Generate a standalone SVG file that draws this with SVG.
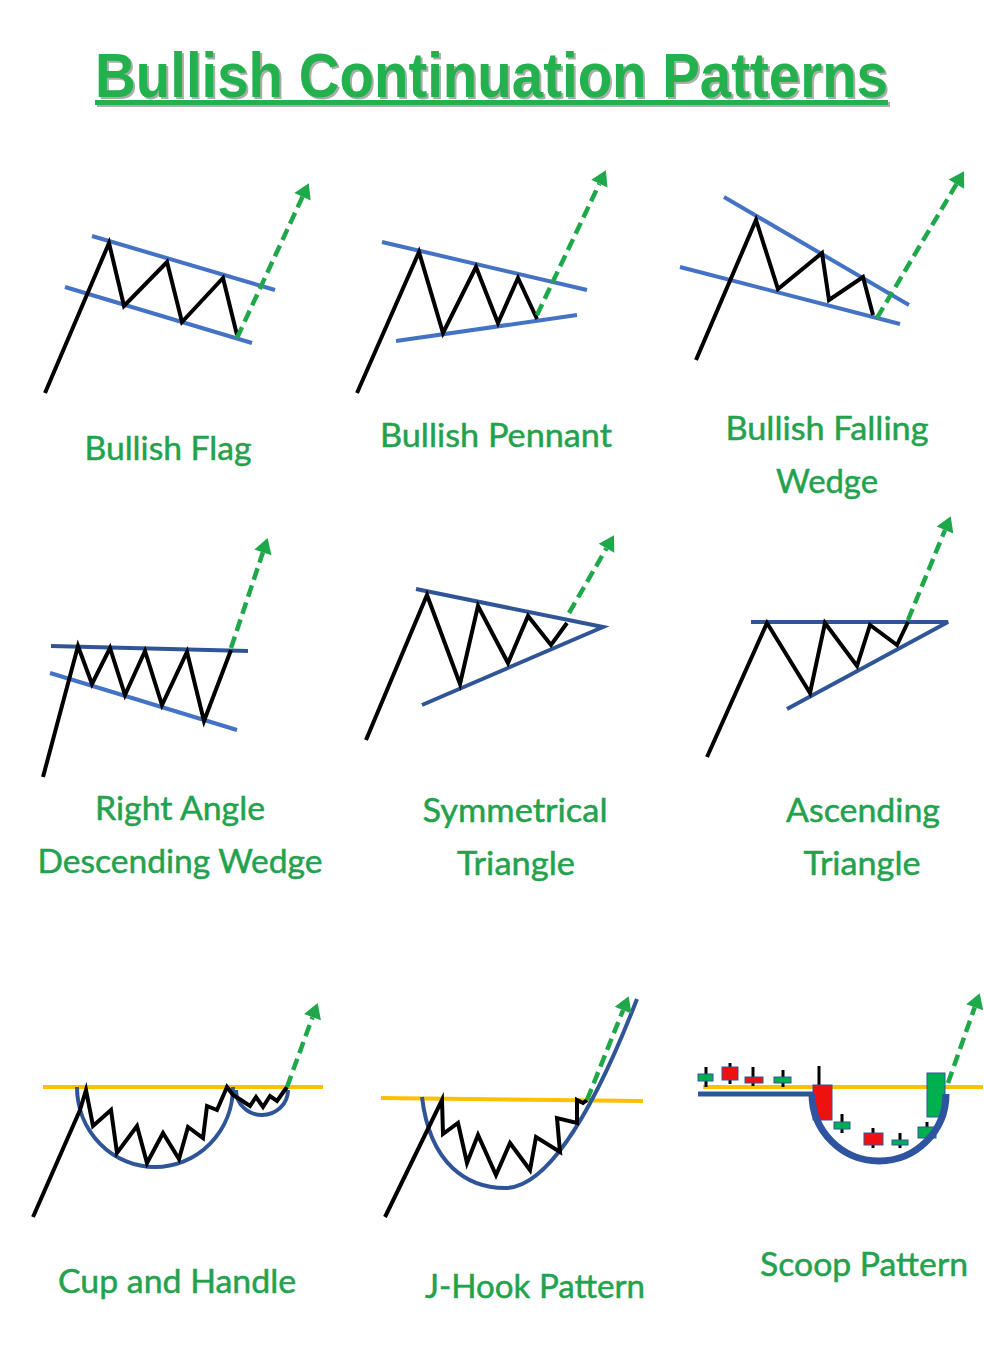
<svg xmlns="http://www.w3.org/2000/svg" width="984" height="1372" viewBox="0 0 984 1372">
<defs>
<style>
.bg{fill:#ffffff}
.title{font-family:"Liberation Sans Narrow","Liberation Sans",Arial,sans-serif;font-weight:bold;font-size:46px;fill:#22B14C}
.tshadow{font-family:"Liberation Sans Narrow","Liberation Sans",Arial,sans-serif;font-weight:bold;font-size:46px;fill:#8A8A8A;opacity:0.7}
.lbl{font-family:Lato,"Open Sans",sans-serif;font-size:33px;fill:#23A24D;stroke:#23A24D;stroke-width:0.5;text-anchor:middle}
.px{fill:none;stroke:#000000;stroke-width:4;stroke-linejoin:miter;stroke-miterlimit:6;stroke-linecap:butt}
.bl{fill:none;stroke:#4472C4;stroke-width:4}
.nv{fill:none;stroke:#2F5597;stroke-width:4}
.yl{fill:none;stroke:#FFC000;stroke-width:4}
.ar{fill:none;stroke:#1FA84A;stroke-width:4.5;stroke-dasharray:12,6}
.cg{fill:#00B050;stroke:#2E54A0;stroke-width:1}
.cr{fill:#F01010;stroke:#2E54A0;stroke-width:1}
.wk{stroke:#000000;stroke-width:3}
</style>
<marker id="ah" markerUnits="userSpaceOnUse" markerWidth="18" markerHeight="20" refX="0" refY="9" orient="auto" overflow="visible">
<path d="M0,0 L15,9 L0,18 z" fill="#1FA84A"/>
</marker>
</defs>
<rect class="bg" x="0" y="0" width="984" height="1372"/>

<g id="title">
<g transform="scale(1,1.37)">
<text class="tshadow" x="97" y="72.3" textLength="793" lengthAdjust="spacingAndGlyphs">Bullish Continuation Patterns</text>
<text class="title" x="95" y="70.8" textLength="793" lengthAdjust="spacingAndGlyphs">Bullish Continuation Patterns</text>
</g>
<rect x="97" y="102" width="793" height="5" fill="#8A8A8A" opacity="0.7"/>
<rect x="95" y="100" width="793" height="5" fill="#22B14C"/>
</g>

<g id="bullish-flag">
<line class="bl" x1="92" y1="236" x2="275" y2="290"/>
<line class="bl" x1="65" y1="287" x2="252" y2="343"/>
<polyline class="px" points="45,393 109,243 124,306 167,262 182,322 223,278 237,335"/>
<text class="lbl" x="168" y="460" textLength="167" lengthAdjust="spacingAndGlyphs">Bullish Flag</text>
</g>

<g id="bullish-pennant">
<line class="bl" x1="382" y1="242" x2="587" y2="290"/>
<line class="bl" x1="396" y1="341" x2="577" y2="315"/>
<polyline class="px" points="357,393 419,252 443,333 476,267 498,323 518,278 537,319"/>
<text class="lbl" x="496" y="447" textLength="232" lengthAdjust="spacingAndGlyphs">Bullish Pennant</text>
</g>

<g id="bullish-falling-wedge">
<line class="bl" x1="724" y1="197" x2="909" y2="305"/>
<line class="bl" x1="680" y1="267" x2="900" y2="324"/>
<polyline class="px" points="696,360 756,220 778,289 822,253 829,300 863,277 873,315"/>
<text class="lbl" x="827" y="440" textLength="203" lengthAdjust="spacingAndGlyphs">Bullish Falling</text>
<text class="lbl" x="827" y="493" textLength="102" lengthAdjust="spacingAndGlyphs">Wedge</text>
</g>

<g id="right-angle-descending-wedge">
<line class="nv" x1="51" y1="646" x2="248" y2="651"/>
<line class="bl" x1="50" y1="673" x2="237" y2="730"/>
<polyline class="px" points="43,777 78,646 92,684 110,648 125,695 145,651 162,705 187,652 204,721 231,650"/>
<text class="lbl" x="180" y="820" textLength="170" lengthAdjust="spacingAndGlyphs">Right Angle</text>
<text class="lbl" x="180" y="873" textLength="285" lengthAdjust="spacingAndGlyphs">Descending Wedge</text>
</g>

<g id="symmetrical-triangle">
<polyline class="nv" points="416,589 603,627 422,705"/>
<polyline class="px" points="366,740 427,595 460,684 478,606 508,663 528,616 551,645 567,623"/>
<text class="lbl" x="515" y="822" textLength="185" lengthAdjust="spacingAndGlyphs">Symmetrical</text>
<text class="lbl" x="516" y="875" textLength="118" lengthAdjust="spacingAndGlyphs">Triangle</text>
</g>

<g id="ascending-triangle">
<polyline class="nv" points="751,622 948,622 787,709"/>
<polyline class="px" points="707,757 767,623 810,693 825,623 857,666 870,625 897,645 908,622"/>
<text class="lbl" x="863" y="822" textLength="154" lengthAdjust="spacingAndGlyphs">Ascending</text>
<text class="lbl" x="862" y="875" textLength="117" lengthAdjust="spacingAndGlyphs">Triangle</text>
</g>

<g id="cup-and-handle">
<line class="yl" x1="43" y1="1087" x2="323" y2="1087"/>
<path class="nv" d="M77,1087 A78,80 0 0,0 233,1087"/>
<path class="nv" d="M236,1090 A26,25 0 0,0 288,1090"/>
<polyline class="px" points="33,1217 80,1110 86,1090 93,1126 111,1110 117,1153 137,1126 147,1163 163,1133 179,1159 188,1127 203,1138 207,1106 217,1110 227,1087 233,1095 241,1100 250,1106 256,1097 263,1107 270,1096 277,1101 287,1087"/>
<text class="lbl" x="177" y="1293" textLength="238" lengthAdjust="spacingAndGlyphs">Cup and Handle</text>
</g>

<g id="j-hook-pattern">
<line class="yl" x1="381" y1="1098" x2="643" y2="1101"/>
<path class="nv" d="M422,1097 C430,1165 468,1188 505,1188 C545,1188 590,1120 637,999"/>
<polyline class="px" points="385,1217 442,1100 443,1134 458,1123 467,1163 478,1135 496,1175 510,1143 530,1170 536,1137 560,1152 557,1118 577,1123 577,1100 583,1103 587,1100"/>
<text class="lbl" x="535" y="1298" textLength="220" lengthAdjust="spacingAndGlyphs">J-Hook Pattern</text>
</g>

<g id="scoop-pattern">
<line class="yl" x1="703" y1="1087" x2="983" y2="1087"/>
<line x1="698" y1="1094" x2="813" y2="1094" stroke="#2E54A0" stroke-width="5"/>
<line class="wk" x1="706" y1="1067" x2="706" y2="1087"/>
<rect class="cg" x="698" y="1074" width="15" height="7"/>
<line class="wk" x1="730" y1="1063" x2="730" y2="1084"/>
<rect class="cr" x="722" y="1067" width="16" height="13"/>
<line class="wk" x1="753" y1="1067" x2="753" y2="1086"/>
<rect class="cr" x="745" y="1077" width="18" height="6"/>
<line class="wk" x1="783" y1="1070" x2="783" y2="1087"/>
<rect class="cg" x="774" y="1077" width="17" height="6"/>
<line class="wk" x1="819" y1="1066" x2="819" y2="1085"/>
<rect class="cr" x="813" y="1085" width="19" height="35"/>
<line class="wk" x1="842" y1="1114" x2="842" y2="1133"/>
<rect class="cg" x="834" y="1122" width="16" height="7"/>
<line class="wk" x1="873" y1="1128" x2="873" y2="1148"/>
<rect class="cr" x="864" y="1133" width="19" height="12"/>
<line class="wk" x1="900" y1="1133" x2="900" y2="1148"/>
<rect class="cg" x="892" y="1140" width="16" height="5"/>
<line class="wk" x1="927" y1="1122" x2="927" y2="1138"/>
<rect class="cg" x="918" y="1127" width="18" height="11"/>
<rect class="cg" x="927" y="1073" width="18" height="44"/>
<path d="M812,1094 A67,67 0 0,0 946,1094" fill="none" stroke="#2E54A0" stroke-width="7"/>
<text class="lbl" x="864" y="1276" textLength="208" lengthAdjust="spacingAndGlyphs">Scoop Pattern</text>
</g>

<g id="connectors">
<line class="ar" x1="237" y1="338" x2="302.5" y2="196.8" marker-end="url(#ah)"/>
<line class="ar" x1="537" y1="315" x2="599.4" y2="183.7" marker-end="url(#ah)"/>
<line class="ar" x1="877" y1="318" x2="956.4" y2="184.2" marker-end="url(#ah)"/>
<line class="ar" x1="231" y1="648" x2="262.9" y2="552.3" marker-end="url(#ah)"/>
<line class="ar" x1="569" y1="613" x2="606.5" y2="548.3" marker-end="url(#ah)"/>
<line class="ar" x1="908" y1="620" x2="945" y2="530" marker-end="url(#ah)"/>
<line class="ar" x1="287" y1="1087" x2="312.5" y2="1017.2" marker-end="url(#ah)"/>
<line class="ar" x1="587" y1="1100" x2="623.1" y2="1010.1" marker-end="url(#ah)"/>
<line class="ar" x1="948" y1="1083" x2="974.7" y2="1007.3" marker-end="url(#ah)"/>
</g>
</svg>
